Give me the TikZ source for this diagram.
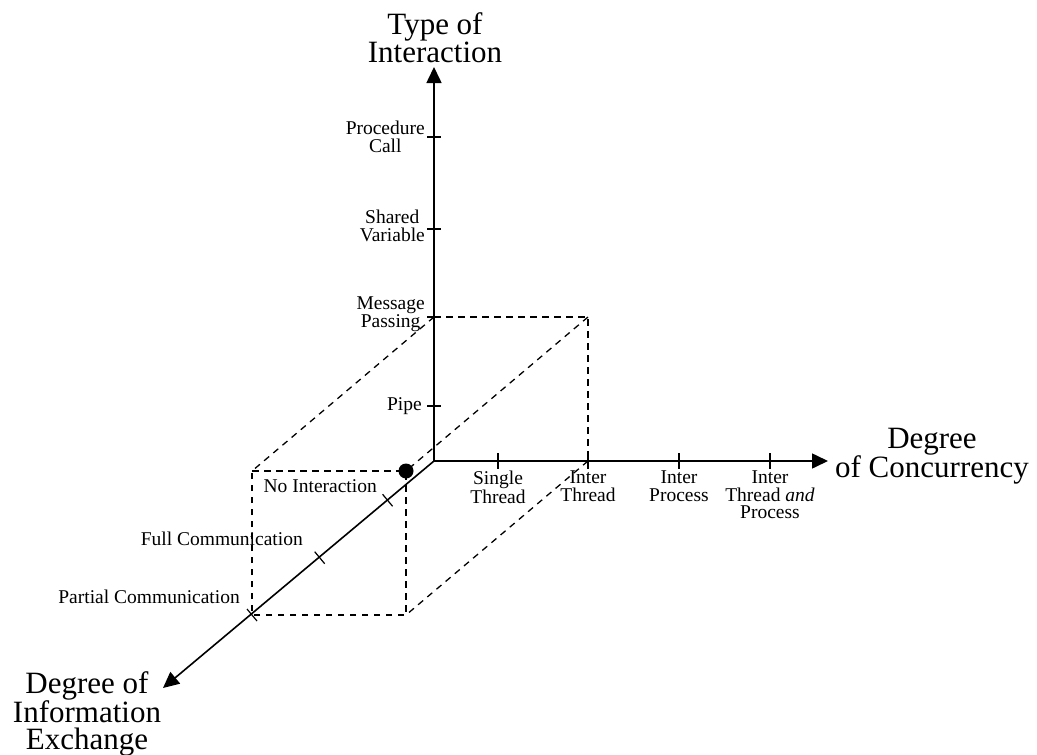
\documentclass[tikz,border=0pt]{standalone}
\usepackage{fontspec}
\setmainfont{Liberation Serif}
\usetikzlibrary{arrows.meta, positioning, calc}

\tikzset{
  axis/.style={line width=1.6pt, -{Triangle[length=16pt,width=15pt]}},
  tickmark/.style={line width=1.2pt},
  cube/.style={line width=1.3pt, dash pattern=on 6.5pt off 5.5pt},
  lbl/.style={font=\fontsize{19.5}{17.5}\selectfont, align=center, inner sep=1pt},
  title/.style={font=\fontsize{31}{27}\selectfont, align=center, inner sep=1pt},
}

\begin{document}
\begin{tikzpicture}[x=1pt, y=-1pt]
  \useasboundingbox (0,0) rectangle (1037,755);

  \coordinate (O) at (434,461);
  \coordinate (Ytip) at (434,67);
  \coordinate (Xtip) at (828,461);
  \coordinate (Ztip) at (163,688);

  \coordinate (B1) at (434,317);
  \coordinate (B2) at (588,317);
  \coordinate (B3) at (588,461);
  \coordinate (F1) at ($(B1)+(-182,154)$);
  \coordinate (F2) at ($(B2)+(-182,154)$);
  \coordinate (F3) at ($(B3)+(-182,154)$);
  \coordinate (F4) at ($(O)+(-182,154)$);

  \draw[cube] (B1) -- (B2) -- (B3) -- (O) -- cycle;
  \draw[cube] (F1) -- (F2) -- (F3) -- (F4) -- cycle;
  \draw[cube] (B1) -- (F1) (B2) -- (F2) (B3) -- (F3);

  \draw[axis] (O) -- (Ytip);
  \draw[axis] (O) -- (Xtip);
  \draw[axis] (O) -- (Ztip);

  \foreach \y in {137,229,317,406}
    \draw[tickmark] (427,\y) -- (441,\y);
  \foreach \x in {498,588,679,770}
    \draw[tickmark] (\x,453) -- (\x,469);
  \foreach \f in {0.255,0.628,1}
    \draw[tickmark] ($(O)!\f!(F4)$) ++(-5,-6) -- ++(10,12);

  \fill (F2) circle (7.5pt);

  \node[title] (ytitle) at (435,38) {Type of\\Interaction};
  \node[title] (xtitle) at (932,456) {Degree\\of Concurrency};
  \node[title] (ztitle) at (87,714) {Degree of\\Information\\Exchange};

  \node[lbl, anchor=east] (pcall) at (426,137) {Procedure\\Call};
  \node[lbl, anchor=east] (svar) at (426,226) {Shared\\Variable};
  \node[lbl, anchor=east] (mpass) at (426,314) {Message\\Passing};
  \node[lbl, anchor=east] (pipe) at (423,406) {Pipe};

  \node[lbl, anchor=north] (single) at (498,470) {Single\\Thread};
  \node[lbl, anchor=north] (ithread) at (588,470) {Inter\\Thread};
  \node[lbl, anchor=north] (iproc) at (679,470) {Inter\\Process};
  \node[lbl, anchor=north] (ithproc) at (770,470) {Inter\\Thread \textit{and}\\Process};

  \node[lbl, anchor=east] (noint) at (378,486) {No Interaction};
  \node[lbl, anchor=east] (fullc) at (304,539) {Full Communication};
  \node[lbl, anchor=east] (partc) at (241,597) {Partial Communication};
\end{tikzpicture}
\end{document}
